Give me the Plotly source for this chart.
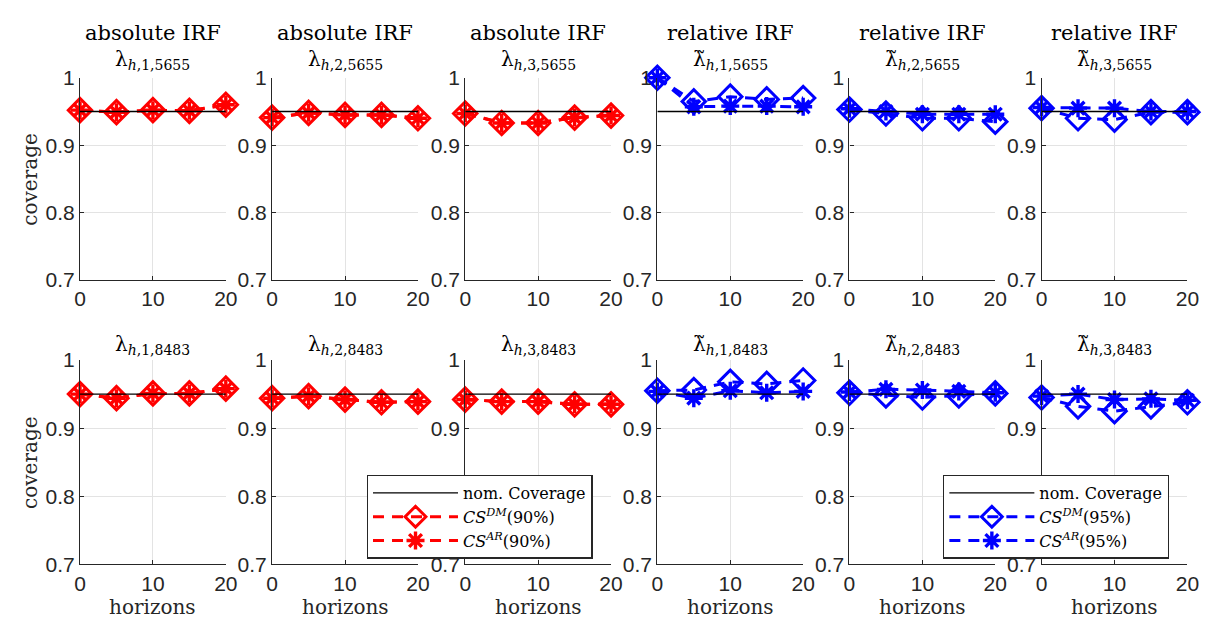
import plotly.graph_objects as go

# ---------------- data ----------------
horizons = [0, 5, 10, 15, 20]
nominal_coverage = 0.95
nominal_x = [0, 20]
y_ticks = [0.7, 0.8, 0.9, 1.0]
y_tick_labels = ["0.7", "0.8", "0.9", "1"]
x_ticks = [0, 10, 20]

# top row (5655)
abs1_5655_dm = [0.952, 0.949, 0.952, 0.951, 0.960]
abs1_5655_ar = [0.952, 0.949, 0.952, 0.951, 0.960]
abs2_5655_dm = [0.941, 0.948, 0.945, 0.945, 0.940]
abs2_5655_ar = [0.941, 0.948, 0.945, 0.945, 0.940]
abs3_5655_dm = [0.947, 0.933, 0.933, 0.941, 0.944]
abs3_5655_ar = [0.947, 0.933, 0.933, 0.941, 0.944]
rel1_5655_dm = [1.000, 0.965, 0.972, 0.968, 0.970]
rel1_5655_ar = [1.000, 0.957, 0.958, 0.958, 0.957]
rel2_5655_dm = [0.953, 0.947, 0.940, 0.940, 0.935]
rel2_5655_ar = [0.954, 0.950, 0.946, 0.946, 0.946]
rel3_5655_dm = [0.955, 0.940, 0.938, 0.949, 0.949]
rel3_5655_ar = [0.956, 0.955, 0.955, 0.950, 0.950]

# bottom row (8483)
abs1_8483_dm = [0.950, 0.944, 0.951, 0.951, 0.958]
abs1_8483_ar = [0.950, 0.944, 0.951, 0.951, 0.958]
abs2_8483_dm = [0.944, 0.947, 0.942, 0.938, 0.939]
abs2_8483_ar = [0.944, 0.947, 0.942, 0.938, 0.939]
abs3_8483_dm = [0.942, 0.939, 0.939, 0.935, 0.935]
abs3_8483_ar = [0.942, 0.939, 0.939, 0.935, 0.935]
rel1_8483_dm = [0.955, 0.956, 0.968, 0.965, 0.970]
rel1_8483_ar = [0.954, 0.944, 0.955, 0.952, 0.954]
rel2_8483_dm = [0.952, 0.948, 0.945, 0.948, 0.951]
rel2_8483_ar = [0.953, 0.957, 0.956, 0.954, 0.952]
rel3_8483_dm = [0.945, 0.932, 0.925, 0.932, 0.938]
rel3_8483_ar = [0.947, 0.950, 0.942, 0.943, 0.941]

group_titles = ["absolute IRF", "absolute IRF", "absolute IRF",
                "relative IRF", "relative IRF", "relative IRF"]
top_symbols = ["λ<sub><i>h</i>,1,5655</sub>", "λ<sub><i>h</i>,2,5655</sub>",
               "λ<sub><i>h</i>,3,5655</sub>", "λ̃<sub><i>h</i>,1,5655</sub>",
               "λ̃<sub><i>h</i>,2,5655</sub>", "λ̃<sub><i>h</i>,3,5655</sub>"]
bottom_symbols = ["λ<sub><i>h</i>,1,8483</sub>", "λ<sub><i>h</i>,2,8483</sub>",
                  "λ<sub><i>h</i>,3,8483</sub>", "λ̃<sub><i>h</i>,1,8483</sub>",
                  "λ̃<sub><i>h</i>,2,8483</sub>", "λ̃<sub><i>h</i>,3,8483</sub>"]
legend_red = ["nom. Coverage", "<i>CS</i><sup><i>DM</i></sup>(90%)", "<i>CS</i><sup><i>AR</i></sup>(90%)"]
legend_blue = ["nom. Coverage", "<i>CS</i><sup><i>DM</i></sup>(95%)", "<i>CS</i><sup><i>AR</i></sup>(95%)"]

top_dm = [abs1_5655_dm, abs2_5655_dm, abs3_5655_dm, rel1_5655_dm, rel2_5655_dm, rel3_5655_dm]
top_ar = [abs1_5655_ar, abs2_5655_ar, abs3_5655_ar, rel1_5655_ar, rel2_5655_ar, rel3_5655_ar]
bot_dm = [abs1_8483_dm, abs2_8483_dm, abs3_8483_dm, rel1_8483_dm, rel2_8483_dm, rel3_8483_dm]
bot_ar = [abs1_8483_ar, abs2_8483_ar, abs3_8483_ar, rel1_8483_ar, rel2_8483_ar, rel3_8483_ar]

# ---------------- layout geometry ----------------
W, H = 1218, 628
col_left = [67, 262, 458, 653, 848, 1043]
pw = 148
rows_px = [(60, 270), (353, 565)]
RED, BLUE = "#FF0000", "#0000FF"
AX = "#262626"
SERIF = "DejaVu Serif"
SANS = "Liberation Sans"

fig = go.Figure()
layout = {}
annotations = []


def note(text, xp, yp, size=20, color="black", angle=0):
    return dict(text=text, x=xp, y=yp, xref="paper", yref="paper", xanchor="center",
                yanchor="middle", showarrow=False, textangle=angle,
                font=dict(family=SERIF, size=size, color=color))


for r in range(2):
    for c in range(6):
        idx = r * 6 + c + 1
        xa = "x" if idx == 1 else f"x{idx}"
        ya = "y" if idx == 1 else f"y{idx}"
        color = RED if c < 3 else BLUE
        dm = (top_dm if r == 0 else bot_dm)[c]
        ar = (top_ar if r == 0 else bot_ar)[c]
        legend_id = "legend" if c < 3 else "legend2"
        show = (r == 1 and c in (2, 5))
        labels = legend_red if c < 3 else legend_blue

        fig.add_trace(go.Scatter(
            x=horizons, y=dm, xaxis=xa, yaxis=ya, mode="lines+markers",
            line=dict(color=color, width=3, dash="11px,8px"),
            marker=dict(symbol="diamond-open", size=18, color=color, line=dict(width=3, color=color)),
            cliponaxis=False, name=labels[1], legend=legend_id, showlegend=show, legendrank=2))
        fig.add_trace(go.Scatter(
            x=horizons, y=ar, xaxis=xa, yaxis=ya, mode="lines+markers",
            line=dict(color=color, width=3, dash="11px,8px"),
            marker=dict(symbol="asterisk-open", size=15, color=color, line=dict(width=3.4, color=color)),
            cliponaxis=False, name=labels[2], legend=legend_id, showlegend=show, legendrank=3))
        fig.add_trace(go.Scatter(
            x=nominal_x, y=[nominal_coverage] * len(nominal_x), xaxis=xa, yaxis=ya, mode="lines",
            line=dict(color="black", width=1.3), cliponaxis=False,
            name=labels[0], legend=legend_id, showlegend=show, legendrank=1))

        x0 = col_left[c] / W
        x1 = (col_left[c] + pw) / W
        y0 = 1 - rows_px[r][1] / H
        y1 = 1 - rows_px[r][0] / H
        key_x = "xaxis" if idx == 1 else f"xaxis{idx}"
        key_y = "yaxis" if idx == 1 else f"yaxis{idx}"
        layout[key_x] = dict(domain=[x0, x1], anchor=ya, range=[0, 20], tickvals=x_ticks,
                             showline=True, linecolor=AX, linewidth=1.3, mirror=False,
                             ticks="inside", ticklen=4, tickcolor=AX, showgrid=True,
                             gridcolor="#E3E3E3", gridwidth=1, zeroline=False,
                             tickfont=dict(family=SANS, size=21, color=AX), fixedrange=True)
        layout[key_y] = dict(domain=[y0, y1], anchor=xa, range=[0.7, 1.0], tickvals=y_ticks,
                             ticktext=y_tick_labels, showline=True, linecolor=AX, linewidth=1.3,
                             mirror=False, ticks="inside", ticklen=4, tickcolor=AX, showgrid=True,
                             gridcolor="#E3E3E3", gridwidth=1, zeroline=False,
                             tickfont=dict(family=SANS, size=21, color=AX), fixedrange=True)

        cx = (x0 + x1) / 2
        if r == 0:
            annotations.append(note(group_titles[c], cx, 1 - 13 / H, size=21))
            annotations.append(note(top_symbols[c], cx, 1 - 42 / H, size=20))
        else:
            annotations.append(note(bottom_symbols[c], cx, 1 - 337 / H, size=20))
            annotations.append(note("horizons", cx, 1 - 609 / H, size=20, color=AX))

for yc in (165, 459):
    annotations.append(note("coverage", 16 / W, 1 - yc / H, size=20, color=AX, angle=-90))

legend_style = dict(bgcolor="white", bordercolor=AX, borderwidth=1.3,
                    font=dict(family=SERIF, size=16, color="black"),
                    xanchor="left", yanchor="top", tracegroupgap=0, itemwidth=85)
fig.update_layout(
    width=W, height=H, margin=dict(l=0, r=0, t=0, b=0),
    paper_bgcolor="white", plot_bgcolor="white", showlegend=True,
    annotations=annotations,
    legend=dict(x=358 / W, y=1 - 472 / H, **legend_style),
    legend2=dict(x=943 / W, y=1 - 472 / H, **legend_style),
    **layout)

fig.write_html("out.html")
